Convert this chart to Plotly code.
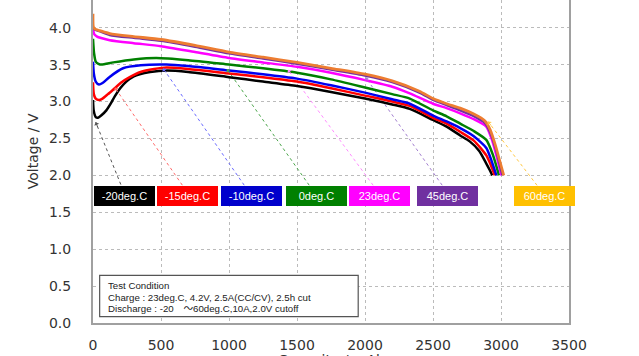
import math
import plotly.graph_objects as go

# ---------------- data ----------------
series_names = ["-20deg.C", "-15deg.C", "-10deg.C", "0deg.C", "23deg.C", "45deg.C", "60deg.C"]

cap_m20 = [0, 5, 20, 37, 60, 98, 130, 160, 200, 245, 300, 343, 420, 540, 700, 1000, 1250, 1500, 1750, 2000, 2200, 2329, 2500, 2600, 2700, 2770, 2840, 2892, 2915, 2936]
v_m20 = [3.02, 2.88, 2.79, 2.78, 2.81, 2.88, 2.97, 3.07, 3.18, 3.27, 3.34, 3.37, 3.40, 3.42, 3.40, 3.33, 3.27, 3.21, 3.13, 3.04, 2.96, 2.90, 2.75, 2.66, 2.54, 2.46, 2.33, 2.16, 2.08, 2.00]

cap_m15 = [0, 6, 20, 44, 70, 110, 160, 210, 270, 350, 450, 540, 700, 1000, 1250, 1500, 1750, 2000, 2200, 2329, 2500, 2600, 2700, 2800, 2892, 2925, 2954]
v_m15 = [3.26, 3.10, 3.04, 3.02, 3.04, 3.10, 3.18, 3.26, 3.33, 3.40, 3.44, 3.46, 3.44, 3.38, 3.33, 3.27, 3.18, 3.08, 3.00, 2.94, 2.78, 2.70, 2.59, 2.47, 2.27, 2.14, 2.00]

cap_m10 = [0, 6, 20, 44, 70, 120, 221, 350, 540, 700, 1000, 1250, 1500, 1750, 2000, 2200, 2329, 2500, 2600, 2700, 2800, 2892, 2930, 2966]
v_m10 = [3.54, 3.38, 3.27, 3.23, 3.25, 3.33, 3.45, 3.49, 3.50, 3.48, 3.42, 3.37, 3.31, 3.22, 3.12, 3.03, 2.97, 2.81, 2.73, 2.64, 2.53, 2.37, 2.20, 2.00]

cap_0 = [0, 8, 20, 40, 62, 150, 300, 466, 700, 1000, 1250, 1500, 1750, 2000, 2200, 2329, 2500, 2600, 2700, 2800, 2892, 2940, 2985]
v_0 = [3.85, 3.65, 3.54, 3.51, 3.50, 3.53, 3.57, 3.59, 3.56, 3.50, 3.45, 3.39, 3.30, 3.19, 3.10, 3.04, 2.88, 2.80, 2.70, 2.60, 2.48, 2.28, 2.00]

cap_23 = [0, 10, 30, 60, 123, 300, 500, 750, 1000, 1250, 1500, 1750, 2000, 2200, 2329, 2500, 2600, 2700, 2800, 2892, 2930, 2965, 3003]
v_23 = [3.97, 3.91, 3.88, 3.86, 3.83, 3.79, 3.75, 3.67, 3.59, 3.53, 3.47, 3.39, 3.29, 3.20, 3.11, 2.97, 2.91, 2.84, 2.76, 2.66, 2.50, 2.28, 2.00]

cap_45 = [0, 15, 50, 123, 300, 500, 750, 1000, 1250, 1500, 1750, 2000, 2200, 2400, 2500, 2600, 2700, 2800, 2880, 2920, 2960, 2985, 3010]
v_45 = [4.00, 3.97, 3.95, 3.90, 3.86, 3.82, 3.74, 3.65, 3.58, 3.51, 3.43, 3.35, 3.26, 3.12, 3.02, 2.95, 2.88, 2.80, 2.71, 2.58, 2.36, 2.18, 2.00]

cap_60 = [0, 3, 15, 50, 123, 300, 500, 750, 1000, 1250, 1500, 1750, 2000, 2200, 2400, 2500, 2600, 2700, 2800, 2880, 2920, 2960, 2990, 3020]
v_60 = [4.19, 4.01, 3.98, 3.96, 3.92, 3.88, 3.84, 3.76, 3.67, 3.60, 3.53, 3.45, 3.37, 3.28, 3.14, 3.04, 2.97, 2.91, 2.83, 2.74, 2.62, 2.40, 2.20, 2.00]

caps = [cap_m20, cap_m15, cap_m10, cap_0, cap_23, cap_45, cap_60]
volts = [v_m20, v_m15, v_m10, v_0, v_23, v_45, v_60]

# leader arrows: tip on the curve (capacity, voltage), tail at the label
tip_cap = [20, 160, 515, 985, 1434, 2003, 2904]
tip_v = [2.72, 3.19, 3.45, 3.44, 3.43, 3.33, 2.73]
tail_cap = [221, 682, 1137, 1615, 2086, 2593, 3292]
tail_v = [1.80, 1.80, 1.80, 1.80, 1.80, 1.80, 1.80]

# label boxes
label_cap = [231, 696, 1165, 1640, 2110, 2603, 3320]
label_v = 1.72

x_ticks = [0, 500, 1000, 1500, 2000, 2500, 3000, 3500]
y_ticks = [0.0, 0.5, 1.0, 1.5, 2.0, 2.5, 3.0, 3.5, 4.0]

note_lines = ["Test Condition",
              "Charge : 23deg.C, 4.2V, 2.5A(CC/CV), 2.5h cut",
              "Discharge : -20\u3000\uff5e60deg.C,10A,2.0V cutoff"]

# ---------------- styles ----------------
line_colors = ["#000000", "#FF0000", "#0000F0", "#008000", "#FF00FF", "#7030A0", "#ED7D31"]
box_colors = ["#000000", "#FF0000", "#0000CC", "#008000", "#FF00FF", "#7030A0", "#FFC000"]
leader_colors = ["#555555", "#FF6A6A", "#6A6AFF", "#4CA64C", "#FF8CFF", "#A27ED0", "#FFC840"]

W, H = 639, 356
ML, MR, MT, MB = 93, 70, 0, 33
XR = [0, 3500]
YR = [0, 4.375]
px_per_cap = (W - ML - MR) / (XR[1] - XR[0])
px_per_v = (H - MT - MB) / (YR[1] - YR[0])

fig = go.Figure()

# leader dotted lines
for i in range(7):
    fig.add_trace(go.Scatter(
        x=[tail_cap[i], tip_cap[i]], y=[tail_v[i], tip_v[i]],
        mode="lines", line=dict(color=leader_colors[i], width=1, dash="dot"),
        hoverinfo="skip", showlegend=False))

# curves
widths = [2.5, 2.5, 2.5, 2.5, 2.5, 2.2, 2.8]
for i in range(7):
    fig.add_trace(go.Scatter(
        x=caps[i], y=volts[i], mode="lines", name=series_names[i],
        line=dict(color=line_colors[i], width=widths[i], shape="spline", smoothing=0.6),
        showlegend=False))

annotations = []
# arrow heads
for i in range(7):
    dx = (tail_cap[i] - tip_cap[i]) * px_per_cap
    dy = -(tail_v[i] - tip_v[i]) * px_per_v
    n = math.hypot(dx, dy)
    annotations.append(dict(
        x=tip_cap[i], y=tip_v[i], xref="x", yref="y", text="",
        showarrow=True, ax=dx / n * 7, ay=dy / n * 7,
        arrowhead=1, arrowsize=0.9, arrowwidth=1, arrowcolor=leader_colors[i], standoff=0))

# label boxes
for i in range(7):
    annotations.append(dict(
        x=label_cap[i], y=label_v, xref="x", yref="y", text=series_names[i],
        showarrow=False, bgcolor=box_colors[i], bordercolor=box_colors[i],
        borderwidth=1, borderpad=0, width=59, height=18,
        font=dict(family="Liberation Sans, Arial", size=11, color="white"),
        xanchor="center", yanchor="middle"))

# note text
note_y = [0.509, 0.352, 0.203]
for t, yy in zip(note_lines, note_y):
    annotations.append(dict(
        x=98, y=yy, xref="x", yref="y", text=t, showarrow=False,
        xanchor="left", yanchor="middle",
        font=dict(family="Liberation Sans, Arial, Noto Sans CJK JP", size=9.7, color="#222222")))

# axis titles
annotations.append(dict(
    x=-0.126, y=0.532, xref="paper", yref="paper", text="Voltage / V",
    textangle=-90, showarrow=False, xanchor="center", yanchor="middle",
    font=dict(family="DejaVu Sans", size=14, color="#333333")))
annotations.append(dict(
    x=0.5, y=-0.084, xref="paper", yref="paper", text="Capacity / mAh",
    showarrow=False, xanchor="center", yanchor="top",
    font=dict(family="DejaVu Sans", size=14, color="#333333")))

fig.add_shape(type="rect", xref="x", yref="y", x0=49, x1=1950, y0=0.085, y1=0.644,
              line=dict(color="#555555", width=1.2), fillcolor="white", layer="above")

fig.update_layout(
    width=W, height=H,
    margin=dict(l=ML, r=MR, t=MT, b=MB, autoexpand=False),
    paper_bgcolor="white", plot_bgcolor="white",
    annotations=annotations,
    font=dict(family="DejaVu Sans", size=14, color="#333333"),
)
fig.update_xaxes(
    range=XR, tickvals=x_ticks, ticktext=[str(v) for v in x_ticks],
    showgrid=True, gridcolor="#BBBBBB", griddash="dot", gridwidth=1,
    showline=True, linecolor="#A0A0A0", linewidth=2, mirror=False,
    ticks="", ticklabelstandoff=8, zeroline=False,
    tickfont=dict(family="DejaVu Sans", size=14, color="#333333"))
fig.update_yaxes(
    range=YR, tickvals=y_ticks, ticktext=[f"{v:.1f}" for v in y_ticks],
    showgrid=True, gridcolor="#BBBBBB", griddash="dot", gridwidth=1,
    showline=True, linecolor="#A0A0A0", linewidth=2, mirror=True,
    ticks="", ticklabelstandoff=17, zeroline=False,
    tickfont=dict(family="DejaVu Sans", size=14, color="#333333"))

fig.write_html("out.html", config={"displayModeBar": False},
               post_script="document.body.style.margin='0';")
